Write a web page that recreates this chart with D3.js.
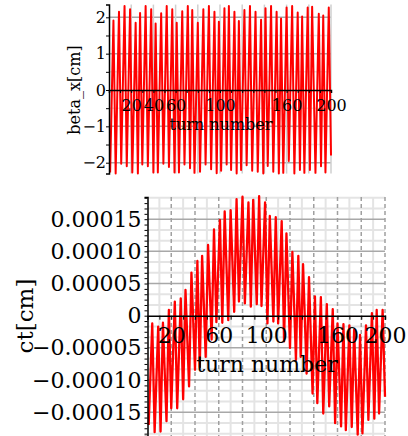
<!DOCTYPE html>
<html>
<head>
<meta charset="utf-8">
<script src="https://cdn.jsdelivr.net/npm/d3@7"></script>
<style>
  body { margin: 0; background: #fff; }
  svg { display: block; }
  text { font-family: "DejaVu Serif", serif; fill: #000; }
</style>
</head>
<body>
<svg id="chart" width="408" height="436"></svg>
<script>
// beta_x: turn numbers and values of the zigzag's upper and lower tips
const betaPeakTurns = [4, 9, 14, 19, 24, 28, 33, 38, 42, 47, 52, 57, 61, 66, 71, 75, 80, 85, 90, 95, 99,
  104, 108, 113, 117, 122, 127, 132, 137, 141, 146, 151, 155, 160, 165, 170, 174, 179, 183, 189, 193, 198];
const betaPeaks = [1.91, 2.15, 2.31, 2.22, 1.85, 2.12, 2.31, 2.22, 1.83, 2.11, 2.31, 2.22, 1.85, 2.17, 2.31, 2.2,
  1.85, 2.22, 2.31, 2.15, 1.88, 2.25, 2.31, 2.15, 1.9, 2.2, 2.31, 2.15, 1.93, 2.25, 2.31, 2.15, 1.97, 2.27,
  2.31, 2.13, 2.02, 2.27, 2.29, 2.1, 2.05, 2.27];
const betaTroughTurns = [1, 6, 11, 16, 21, 26, 30, 35, 40, 44, 49, 54, 59, 63, 68, 73, 77, 82, 87, 92, 97, 101,
  106, 110, 115, 119, 124, 129, 134, 139, 143, 148, 153, 157, 162, 167, 172, 176, 181, 186, 191, 195, 200];
const betaTroughs = [-2.27, -2.3, -2.03, -2.1, -2.27, -2.3, -2.05, -2.1, -2.27, -2.27, -2.03, -2.12, -2.27, -2.27,
  -2.05, -2.15, -2.28, -2.25, -2.05, -2.18, -2.29, -2.22, -2.05, -2.2, -2.3, -2.2, -2.07, -2.22, -2.25, -2.3,
  -2.09, -2.25, -2.3, -2.28, -1.95, -2.3, -2.2, -2.28, -2.2, -2.28, -2.1, -2.27, -1.8];

// ct [cm]: same kind of tips
const ctPeakTurns = [4, 9, 13, 18, 23, 28, 32, 37, 42, 46, 51, 56, 61, 65, 70, 75, 80, 85, 89, 94, 99,
  103, 108, 113, 117, 122, 127, 131, 136, 141, 146, 151, 156, 160, 165, 170, 174, 179, 184, 189, 193, 198];
const ctPeaks = [-1.2e-5, -1.7e-5, -1.1e-5, 0.9e-5, 2.2e-5, 2.7e-5, 4.0e-5, 6.7e-5, 8.5e-5, 9.3e-5, 11.0e-5,
  13.4e-5, 14.9e-5, 16.2e-5, 16.4e-5, 18.1e-5, 18.5e-5, 17.6e-5, 18.0e-5, 18.6e-5, 17.6e-5, 15.5e-5, 15.3e-5,
  14.7e-5, 12.8e-5, 9.9e-5, 9.3e-5, 8.0e-5, 6.0e-5, 3.0e-5, 2.9e-5, 1.8e-5, 1.0e-5, -1.2e-5, -1.3e-5, -1.5e-5,
  -2.2e-5, -3.0e-5, -1.5e-5, 0.4e-5, 0.9e-5, 0.9e-5];
const ctTroughTurns = [1, 6, 11, 16, 20, 25, 30, 35, 40, 44, 49, 54, 58, 63, 68, 73, 77, 82, 87, 92, 96, 101,
  106, 110, 115, 120, 125, 129, 134, 139, 143, 148, 153, 158, 163, 167, 172, 177, 181, 186, 191, 195, 200];
const ctTroughs = [-17.0e-5, -18.1e-5, -18.0e-5, -16.4e-5, -14.4e-5, -14.4e-5, -13.0e-5, -11.0e-5, -8.4e-5,
  -8.0e-5, -6.4e-5, -3.7e-5, -1.0e-5, -1.1e-5, -0.7e-5, 0.6e-5, 2.2e-5, 1.9e-5, 1.4e-5, 1.8e-5, 1.5e-5,
  -1.2e-5, -0.9e-5, -1.2e-5, -4.0e-5, -5.0e-5, -6.9e-5, -6.4e-5, -9.0e-5, -12.1e-5, -13.6e-5, -15.2e-5,
  -14.1e-5, -16.7e-5, -17.2e-5, -17.8e-5, -17.3e-5, -18.5e-5, -18.3e-5, -16.2e-5, -16.0e-5, -15.2e-5, -12.6e-5];

// tick labels
const betaXLabels = [20, 40, 60, 100, 160, 200];
const betaYLabels = [-2, -1, 0, 1, 2];
const ctXLabels = [20, 60, 100, 160, 200];
const ctYLabels = [-0.00015, -0.0001, -0.00005, 0, 0.00005, 0.0001, 0.00015];

function tips(pt, pv, tt, tv) {
  const pts = [];
  pt.forEach((t, i) => pts.push({ t: t, v: pv[i] }));
  tt.forEach((t, i) => pts.push({ t: t, v: tv[i] }));
  return pts.sort((a, b) => a.t - b.t);
}

const svg = d3.select('#chart');
svg.append('rect').attr('width', 408).attr('height', 436).attr('fill', '#fff');

function fmtMinus(s) { return String(s).replace('-', '\u2212'); }

// ---------- top panel: beta_x ----------
{
  const x = d3.scaleLinear().domain([0, 200]).range([109, 331]);
  const y = d3.scaleLinear().domain([-2.3, 2.35]).range([173.6, 4.6]);
  const g = svg.append('g');

  // grid
  d3.range(-1.5, 2, 1).forEach(v => {
    g.append('line').attr('x1', x(0)).attr('x2', x(200)).attr('y1', y(v)).attr('y2', y(v))
      .attr('stroke', '#e4e4e4').attr('stroke-width', 1.5);
  });
  [-2, -1, 1, 2].forEach(v => {
    g.append('line').attr('x1', x(0)).attr('x2', x(200)).attr('y1', y(v)).attr('y2', y(v))
      .attr('stroke', '#a8a8a8').attr('stroke-width', 1.5);
  });
  d3.range(20, 201, 20).forEach(t => {
    g.append('line').attr('x1', x(t)).attr('x2', x(t)).attr('y1', y(2.35)).attr('y2', y(-2.3))
      .attr('stroke', '#cfcfcf').attr('stroke-width', 1.5);
  });

  // data
  g.append('path').datum(tips(betaPeakTurns, betaPeaks, betaTroughTurns, betaTroughs))
    .attr('fill', 'none').attr('stroke', '#ff0000').attr('stroke-width', 2)
    .attr('stroke-linejoin', 'round')
    .attr('d', d3.line().x(d => x(d.t)).y(d => y(d.v)));

  // axes
  const xAxis = g.append('g').attr('transform', `translate(0,${y(0)})`)
    .call(d3.axisBottom(x).tickValues(d3.range(10, 201, 10)).tickSize(3).tickFormat(''));
  const xLab = g.append('g').attr('transform', `translate(0,${y(0)})`)
    .call(d3.axisBottom(x).tickValues(betaXLabels).tickSize(0).tickPadding(10).tickFormat(d3.format('d')));
  xLab.select('.domain').remove();
  xLab.selectAll('text').style('font-size', '16px').style('font-family', '"DejaVu Serif", serif');

  const yAxis = g.append('g').attr('transform', `translate(${x(0)},0)`)
    .call(d3.axisLeft(y).tickValues(d3.range(-2, 2.1, 0.5)).tickSize(3).tickFormat(''));
  const yLab = g.append('g').attr('transform', `translate(${x(0)},0)`)
    .call(d3.axisLeft(y).tickValues(betaYLabels).tickSize(0).tickPadding(3).tickFormat(d => fmtMinus(d)));
  yLab.select('.domain').remove();
  yLab.selectAll('text').style('font-size', '16px').style('font-family', '"DejaVu Serif", serif');

  [xAxis, yAxis].forEach(a => {
    a.select('.domain').attr('stroke', '#000').attr('stroke-width', 1.5);
    a.selectAll('.tick line').attr('stroke', '#000');
  });

  g.append('text').attr('x', 221).attr('y', 130).attr('text-anchor', 'middle')
    .style('font-size', '16px').text('turn number');
  g.append('text').attr('transform', `translate(80,90) rotate(-90)`).attr('text-anchor', 'middle')
    .style('font-size', '16px').text('beta_x[cm]');
}

// ---------- bottom panel: ct ----------
{
  const x = d3.scaleLinear().domain([0, 200]).range([147.5, 385]);
  const y = d3.scaleLinear().domain([-0.000187, 0.0001845]).range([436, 197]);
  const g = svg.append('g');
  const step = 0.00005;

  // minor grid
  d3.range(10, 200, 20).forEach(t => {
    g.append('line').attr('x1', x(t)).attr('x2', x(t)).attr('y1', y(0.0001845)).attr('y2', 436)
      .attr('stroke', '#e4e4e4').attr('stroke-width', 2);
  });
  d3.range(-11, 12).filter(k => k % 3 !== 0).forEach(k => {
    const v = k * step / 3;
    g.append('line').attr('x1', x(0)).attr('x2', x(200)).attr('y1', y(v)).attr('y2', y(v))
      .attr('stroke', '#e4e4e4').attr('stroke-width', 2);
  });
  // major grid
  ctYLabels.filter(v => v !== 0).forEach(v => {
    g.append('line').attr('x1', x(0)).attr('x2', x(200)).attr('y1', y(v)).attr('y2', y(v))
      .attr('stroke', '#a8a8a8').attr('stroke-width', 1.5);
  });
  d3.range(20, 201, 20).forEach(t => {
    g.append('line').attr('x1', x(t)).attr('x2', x(t)).attr('y1', y(0.0001845)).attr('y2', 436)
      .attr('stroke', '#a0a0a0').attr('stroke-width', 1.5).attr('stroke-dasharray', '4,3');
  });

  // data
  g.append('path').datum(tips(ctPeakTurns, ctPeaks, ctTroughTurns, ctTroughs))
    .attr('fill', 'none').attr('stroke', '#ff0000').attr('stroke-width', 2.3)
    .attr('stroke-linejoin', 'round')
    .attr('d', d3.line().x(d => x(d.t)).y(d => y(d.v)));

  // axes
  const xAxis = g.append('g').attr('transform', `translate(0,${y(0)})`)
    .call(d3.axisBottom(x).tickValues(d3.range(10, 201, 10)).tickSize(4).tickFormat(''));
  const xLab = g.append('g').attr('transform', `translate(0,${y(0)})`)
    .call(d3.axisBottom(x).tickValues(ctXLabels).tickSize(0).tickPadding(12).tickFormat(d3.format('d')));
  xLab.select('.domain').remove();
  xLab.selectAll('text').style('font-size', '22px').style('font-family', '"DejaVu Serif", serif');

  const yAxis = g.append('g').attr('transform', `translate(${x(0)},0)`)
    .call(d3.axisLeft(y).tickValues(d3.range(-22, 23).map(k => k * step / 6)).tickSize(3).tickFormat(''));
  const yLab = g.append('g').attr('transform', `translate(${x(0)},0)`)
    .call(d3.axisLeft(y).tickValues(ctYLabels).tickSize(0).tickPadding(6)
      .tickFormat(d => d === 0 ? '0' : fmtMinus(d3.format('.5f')(d))));
  yLab.select('.domain').remove();
  yLab.selectAll('text').style('font-size', '22px').style('font-family', '"DejaVu Serif", serif');

  [xAxis, yAxis].forEach(a => {
    a.select('.domain').attr('stroke', '#000').attr('stroke-width', 1.5);
    a.selectAll('.tick line').attr('stroke', '#000');
  });

  g.append('text').attr('x', 267).attr('y', 372).attr('text-anchor', 'middle')
    .style('font-size', '22px').text('turn number');
  g.append('text').attr('transform', `translate(33,316) rotate(-90)`).attr('text-anchor', 'middle')
    .style('font-size', '23px').text('ct[cm]');
}
</script>
</body>
</html>
